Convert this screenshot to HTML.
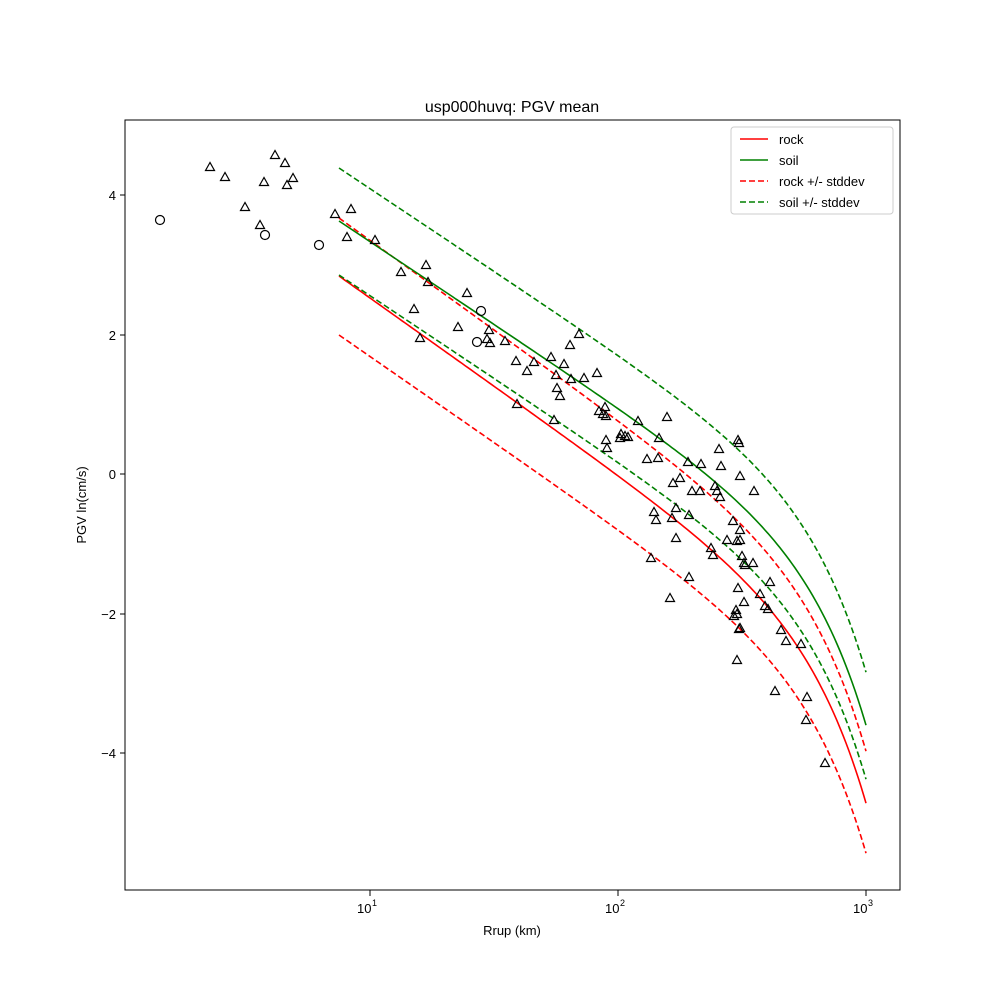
<!DOCTYPE html>
<html><head><meta charset="utf-8"><style>
body{margin:0;background:#fff}
svg text{font-family:"Liberation Sans",sans-serif;fill:#000}
</style></head><body>
<svg id="s" width="1000" height="1000" xmlns="http://www.w3.org/2000/svg">
<rect width="1000" height="1000" fill="#fff"/>
<text x="512" y="112" font-size="16" text-anchor="middle">usp000huvq: PGV mean</text>
<g id="curves" fill="none" stroke-width="1.6"></g>
<g id="pts" fill="none" stroke="#000" stroke-width="1.2"></g>
<rect x="125" y="120" width="775" height="770" fill="none" stroke="#000" stroke-width="1"/>
<g stroke="#000" stroke-width="1" id="ticks">
<line x1="125" y1="195" x2="120" y2="195"/><line x1="125" y1="335" x2="120" y2="335"/>
<line x1="125" y1="474" x2="120" y2="474"/><line x1="125" y1="614" x2="120" y2="614"/>
<line x1="125" y1="753" x2="120" y2="753"/>
<line x1="370" y1="890" x2="370" y2="896"/><line x1="618" y1="890" x2="618" y2="896"/><line x1="866" y1="890" x2="866" y2="896"/>
</g>
<g font-size="13" text-anchor="end">
<text x="116" y="200">4</text><text x="116" y="340">2</text><text x="116" y="479">0</text>
<text x="116" y="619">−2</text><text x="116" y="758">−4</text>
</g>
<g font-size="13">
<text x="357" y="913">10</text><text x="372" y="906" font-size="9">1</text>
<text x="605" y="913">10</text><text x="620" y="906" font-size="9">2</text>
<text x="853" y="913">10</text><text x="868" y="906" font-size="9">3</text>
</g>
<text x="512" y="935" font-size="13" text-anchor="middle">Rrup (km)</text>
<text transform="translate(86,505) rotate(-90)" font-size="13" text-anchor="middle">PGV ln(cm/s)</text>
<g>
<rect x="731" y="127" width="162" height="87" fill="#fff" stroke="#ccc" rx="3"/>
<line x1="740" y1="139" x2="768" y2="139" stroke="red" stroke-width="1.6"/>
<line x1="740" y1="160" x2="768" y2="160" stroke="green" stroke-width="1.6"/>
<line x1="740" y1="181" x2="768" y2="181" stroke="red" stroke-width="1.6" stroke-dasharray="6,3"/>
<line x1="740" y1="202" x2="768" y2="202" stroke="green" stroke-width="1.6" stroke-dasharray="6,3"/>
<g font-size="13"><text x="779" y="144">rock</text><text x="779" y="165">soil</text><text x="779" y="186">rock +/- stddev</text><text x="779" y="207">soil +/- stddev</text></g>
</g>
</svg>
<script>
var NS="http://www.w3.org/2000/svg";
function rock(x){return 276+0.71*(x-339)+153*Math.exp((x-866)/56)-153*Math.exp((339-866)/56);}
function t(x){return (x-339)/(866-339);}
function add(f,col,dash){var d="";for(var x=339;x<=866;x+=3){var xx=Math.min(x,866);d+=(d?" L":"M")+xx+","+f(xx).toFixed(1);}
d+=" L866,"+f(866).toFixed(1);
var p=document.createElementNS(NS,"path");p.setAttribute("d",d);p.setAttribute("stroke",col);if(dash)p.setAttribute("stroke-dasharray","6,3");document.getElementById("curves").appendChild(p);}
function soil(x){return rock(x)-(55+23*t(x));}
add(rock,"red");
add(function(x){return rock(x)-58+6*t(x);},"red",1);
add(function(x){return rock(x)+59-9*t(x);},"red",1);
add(soil,"green");
add(function(x){return soil(x)-53;},"green",1);
add(function(x){return soil(x)+54;},"green",1);
var g=document.getElementById("pts");
[[160,220],[265,235],[319,245],[481,311],[477,342]].forEach(function(p){var c=document.createElementNS(NS,"circle");c.setAttribute("cx",p[0]);c.setAttribute("cy",p[1]);c.setAttribute("r",4.5);g.appendChild(c);});
var T=[[210,167],[225,177],[245,207],[260,225],[264,182],[275,155],[285,163],[287,185],[293,178],[335,214],[347,237],[351,209],[375,240],[401,272],[414,309],[420,338],[426,265],[428,282],[458,327],[467,293],[487,339],[489,330],[490,343],[505,341],[516,361],[517,404],[527,371],[534,362],[551,357],[554,420],[556,375],[557,388],[560,396],[564,364],[570,345],[571,379],[579,334],[584,378],[597,373],[599,411],[603,414],[605,407],[606,416],[606,440],[607,448],[620,438],[621,434],[625,436],[628,437],[638,421],[647,459],[651,558],[654,512],[656,520],[658,458],[659,438],[667,417],[670,598],[672,518],[673,483],[676,508],[676,538],[680,478],[688,462],[689,515],[689,577],[692,491],[701,464],[700,491],[711,548],[713,555],[715,486],[717,491],[720,497],[721,466],[727,540],[734,616],[737,541],[719,449],[733,521],[736,610],[737,614],[737,660],[738,588],[739,629],[740,530],[740,540],[740,628],[738,440],[739,443],[740,476],[742,556],[744,563],[744,602],[745,565],[754,491],[753,563],[760,594],[765,606],[768,609],[770,582],[775,691],[781,630],[786,641],[801,644],[807,697],[806,720],[825,763]];
T.forEach(function(p){var q=document.createElementNS(NS,"polygon");var x=p[0],y=p[1];q.setAttribute("points",(x)+","+(y-4.5)+" "+(x-4.5)+","+(y+3.5)+" "+(x+4.5)+","+(y+3.5));g.appendChild(q);});
</script>
</body></html>
